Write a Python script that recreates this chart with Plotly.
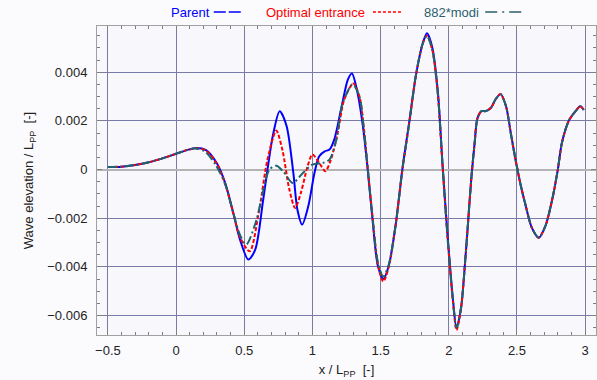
import plotly.graph_objects as go

# ---- data ----
parent_x = [-0.5, -0.4, -0.3, -0.2, -0.1, 0.0, 0.08, 0.15, 0.22, 0.3, 0.36, 0.42, 0.47, 0.53, 0.58,
            0.64, 0.71, 0.76, 0.81, 0.86, 0.89, 0.925, 0.97, 1.015, 1.05, 1.09, 1.125, 1.16, 1.21,
            1.26, 1.29, 1.33, 1.37, 1.405, 1.44, 1.48, 1.52, 1.56, 1.61, 1.66, 1.71, 1.76, 1.81,
            1.84, 1.88, 1.92, 1.955, 1.99, 2.03, 2.057, 2.09, 2.12, 2.14, 2.165, 2.19, 2.21, 2.24,
            2.27, 2.31, 2.345, 2.38, 2.42, 2.455, 2.49, 2.53, 2.565, 2.61, 2.66, 2.71, 2.76, 2.8,
            2.83, 2.88, 2.93, 2.965, 2.99]
parent_y = [0.0001, 0.00012, 0.00019, 0.0003, 0.00046, 0.00065, 0.0008, 0.00089, 0.0008, 0.00025,
            -0.00055, -0.0018, -0.0029, -0.0037, -0.0033, -0.0012, 0.0014, 0.0024, 0.0018, -0.00014,
            -0.00165, -0.00226, -0.0015, -0.00014, 0.00055, 0.00075, 0.00082, 0.00123, 0.00247,
            0.0037, 0.00395, 0.00318, 0.0018, 0.00003, -0.002, -0.00395, -0.0045, -0.00395, -0.0023,
            0.00003, 0.00195, 0.0039, 0.0052, 0.0056, 0.005, 0.0032, 0.00016, -0.0026, -0.0053,
            -0.0065, -0.0057, -0.0038, -0.0023, -0.0004, 0.0011, 0.0021, 0.0024, 0.0024, 0.00254,
            0.0029, 0.0031, 0.0026, 0.0015, 0.0004, -0.0007, -0.0015, -0.0024, -0.0028, -0.0023,
            -0.0012, 0.0, 0.0011, 0.002, 0.0024, 0.0026, 0.00245]

optimal_x = [-0.5, -0.4, -0.3, -0.2, -0.1, 0.0, 0.08, 0.15, 0.22, 0.3, 0.36, 0.42, 0.47, 0.54, 0.61,
             0.67, 0.735, 0.78, 0.83, 0.873, 0.915, 0.965, 1.0, 1.05, 1.095, 1.135, 1.185, 1.235,
             1.3, 1.345, 1.375, 1.405, 1.44, 1.48, 1.52, 1.56, 1.61, 1.66, 1.71, 1.76, 1.81, 1.84,
             1.88, 1.92, 1.955, 1.99, 2.03, 2.057, 2.09, 2.12, 2.14, 2.165, 2.19, 2.21, 2.24, 2.27,
             2.31, 2.345, 2.38, 2.42, 2.455, 2.49, 2.53, 2.565, 2.61, 2.66, 2.71, 2.76, 2.8, 2.83,
             2.88, 2.93, 2.965, 2.99]
optimal_y = [0.0001, 0.00012, 0.00019, 0.0003, 0.00046, 0.00065, 0.0008, 0.00088, 0.00078, 0.00022,
             -0.00058, -0.0018, -0.0028, -0.00336, -0.00165, 0.0004, 0.0016, 0.0008, -0.0008,
             -0.00158, -0.00096, 0.00014, 0.00062, 0.00027, -0.00007, 0.0004, 0.0015, 0.0029,
             0.00354, 0.003, 0.0018, 0.0001, -0.0019, -0.0039, -0.0046, -0.004, -0.0023, 0.0,
             0.0019, 0.0039, 0.0052, 0.0055, 0.0049, 0.0031, 0.0001, -0.0027, -0.0054, -0.0066,
             -0.0057, -0.0038, -0.0023, -0.0004, 0.0011, 0.0021, 0.0024, 0.0024, 0.00254, 0.0029,
             0.0031, 0.0026, 0.0015, 0.0004, -0.0007, -0.0015, -0.0024, -0.0028, -0.0023, -0.0012,
             0.0, 0.0011, 0.002, 0.0024, 0.0026, 0.00245]

modi_x = [-0.5, -0.4, -0.3, -0.2, -0.1, 0.0, 0.08, 0.14, 0.21, 0.29, 0.36, 0.42, 0.47, 0.515, 0.59,
          0.635, 0.685, 0.735, 0.785, 0.855, 0.93, 1.0, 1.075, 1.125, 1.175, 1.22, 1.295, 1.345,
          1.375, 1.405, 1.44, 1.48, 1.52, 1.56, 1.61, 1.66, 1.71, 1.76, 1.81, 1.84, 1.88, 1.92,
          1.955, 1.99, 2.03, 2.057, 2.09, 2.12, 2.14, 2.165, 2.19, 2.21, 2.24, 2.27, 2.31, 2.345,
          2.38, 2.42, 2.455, 2.49, 2.53, 2.565, 2.61, 2.66, 2.71, 2.76, 2.8, 2.83, 2.88, 2.93,
          2.965, 2.99]
modi_y = [0.0001, 0.00012, 0.00019, 0.0003, 0.00046, 0.00065, 0.0008, 0.00087, 0.00075, 0.0002,
          -0.0006, -0.0018, -0.0027, -0.00308, -0.00206, -0.00096, 0.0, 0.00016, -0.00007,
          -0.00055, -0.00014, 0.0002, 0.00027, 0.00041, 0.0012, 0.0027, 0.0035, 0.003, 0.0018,
          0.0001, -0.0019, -0.0038, -0.0044, -0.0039, -0.0023, 0.0, 0.0019, 0.0039, 0.0052,
          0.0055, 0.0049, 0.0031, 0.0001, -0.0027, -0.0053, -0.0065, -0.0057, -0.0038, -0.0023,
          -0.0004, 0.0011, 0.0021, 0.0024, 0.0024, 0.00254, 0.0029, 0.0031, 0.0026, 0.0015,
          0.0004, -0.0007, -0.0015, -0.0024, -0.0028, -0.0023, -0.0012, 0.0, 0.0011, 0.002,
          0.0024, 0.0026, 0.00245]

series_names = ["Parent", "Optimal entrance", "882*modi"]
x_ticks = [-0.5, 0, 0.5, 1, 1.5, 2, 2.5, 3]
y_ticks = [-0.006, -0.004, -0.002, 0, 0.002, 0.004]

# ---- styles ----
BLUE = "#0000ff"
RED = "#ff0000"
TEAL = "#1d6470"
FONT = "Liberation Sans, Arial, sans-serif"

fig = go.Figure()
fig.add_trace(go.Scatter(x=parent_x, y=parent_y, mode="lines", name=series_names[0],
                         line=dict(color=BLUE, width=2, shape="spline", smoothing=0.8)))
fig.add_trace(go.Scatter(x=optimal_x, y=optimal_y, mode="lines", name=series_names[1],
                         line=dict(color=RED, width=2, shape="spline", smoothing=0.8,
                                   dash="4px,2px")))
fig.add_trace(go.Scatter(x=modi_x, y=modi_y, mode="lines", name=series_names[2],
                         line=dict(color=TEAL, width=2, shape="spline", smoothing=0.8,
                                   dash="9px,3px,2px,3px")))

# legend drawn as text + sample line (text first, like the reference)
leg = [
    (series_names[0], BLUE, 0.144, 0.234, 0.293, "12px,3px"),
    (series_names[1], RED, 0.335, 0.553, 0.611, "3px,2px"),
    (series_names[2], "#2a5f6c", 0.651, 0.778, 0.858, "12px,5px,2px,5px"),
]
for name, col, tx, lx0, lx1, dash in leg:
    fig.add_annotation(x=tx, y=1.045, xref="paper", yref="paper", text=name, showarrow=False,
                       xanchor="left", yanchor="middle", font=dict(color=col, size=13, family=FONT))
    fig.add_shape(type="line", xref="paper", yref="paper", x0=lx0, x1=lx1, y0=1.045, y1=1.045,
                  line=dict(color=col, width=1.5, dash=dash))

axis_common = dict(
    showgrid=True, gridcolor="#7a7aa8", gridwidth=1,
    showline=True, linecolor="#a0a0a0", linewidth=1, mirror="ticks",
    ticks="inside", ticklen=5, tickcolor="#808080",
    tickfont=dict(size=13, color="#222222", family=FONT),
    zeroline=False,
)

fig.update_layout(
    width=597, height=380,
    margin=dict(l=97, r=1, t=26, b=45),
    paper_bgcolor="#fbfbfe", plot_bgcolor="#f8f8fc",
    showlegend=False,
    font=dict(family=FONT, size=13, color="#222222"),
    xaxis=dict(range=[-0.58, 3.08], tickvals=x_ticks, ticktext=[f"{v:g}".replace("-", "\u2212") for v in x_ticks],
               minor=dict(dtick=0.1, ticks="inside", ticklen=3, tickcolor="#808080", showgrid=False),
               ticklabelstandoff=3,
               title=dict(text="x / L<sub>PP</sub>  [-]", standoff=8, font=dict(size=13)),
               **axis_common),
    yaxis=dict(range=[-0.0068, 0.0059], tickvals=y_ticks,
               ticktext=[f"{v:g}".replace("-", "\u2212") for v in y_ticks],
               minor=dict(dtick=0.0005, ticks="inside", ticklen=3, tickcolor="#808080", showgrid=False),
               ticklabelstandoff=6,
               title=dict(text="Wave elevation / L<sub>PP</sub>  [-]", standoff=10, font=dict(size=13)),
               **axis_common),
)
fig.update_yaxes(zeroline=True, zerolinecolor="#b4b4b4", zerolinewidth=2)

fig.write_html("out.html")
